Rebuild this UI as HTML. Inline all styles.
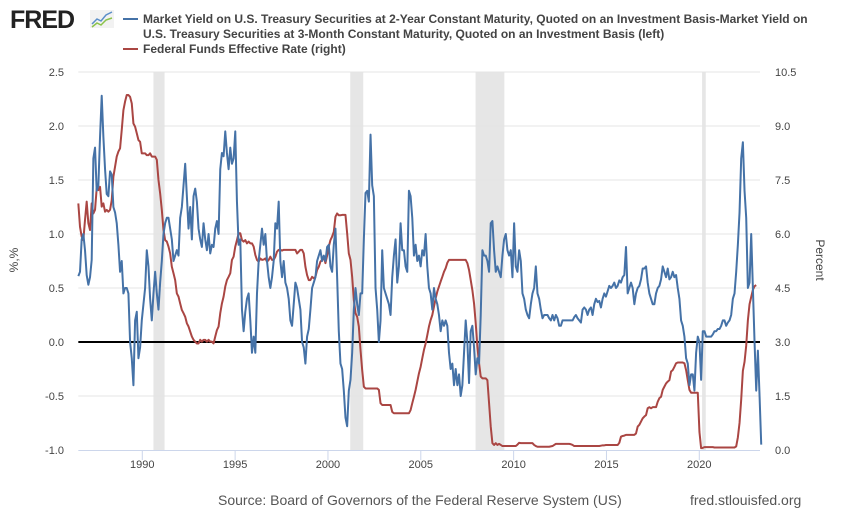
<!DOCTYPE html>
<html><head><meta charset="utf-8">
<style>
body{margin:0;background:#fff;font-family:"Liberation Sans",Arial,sans-serif;}
#wrap{position:relative;width:850px;height:525px;overflow:hidden;}
</style></head>
<body>
<div id="wrap">
<svg id="chart" width="850" height="525" xmlns="http://www.w3.org/2000/svg">
  <g>
    <text x="10" y="28" font-size="25" font-weight="bold" fill="#222" font-family="Liberation Sans, sans-serif" letter-spacing="-1">FRED</text>
    <rect x="90" y="10" width="24" height="18" fill="#f2f2f2"/>
    <polyline points="92,24 97,19 101,21 106,15 112,12" fill="none" stroke="#5b8fc9" stroke-width="1.5"/>
    <polyline points="92,27 97,23 101,25 106,20 112,18" fill="none" stroke="#8bc34a" stroke-width="1.5"/>
  </g>
  <g font-size="12" fill="#444" font-weight="bold">
    <line x1="123" y1="19" x2="138" y2="19" stroke="#4572a7" stroke-width="2"/>
    <text x="143" y="23">Market Yield on U.S. Treasury Securities at 2-Year Constant Maturity, Quoted on an Investment Basis-Market Yield on</text>
    <text x="143" y="38">U.S. Treasury Securities at 3-Month Constant Maturity, Quoted on an Investment Basis (left)</text>
    <line x1="123" y1="49" x2="138" y2="49" stroke="#aa4643" stroke-width="2"/>
    <text x="143" y="53">Federal Funds Effective Rate (right)</text>
  </g>
  <g id="recessions"></g>
  <g id="grid"></g>
  <g id="axes"></g>
  <g id="series"></g>
  <text x="18" y="260" font-size="12" fill="#444" transform="rotate(-90 18 260)" text-anchor="middle">%,%</text>
  <text x="816" y="260" font-size="12" fill="#444" transform="rotate(90 816 260)" text-anchor="middle">Percent</text>
  <text x="218" y="505" font-size="14" fill="#555">Source: Board of Governors of the Federal Reserve System (US)</text>
  <text x="690" y="505" font-size="14" fill="#555">fred.stlouisfed.org</text>
</svg>
</div>
<script>
const START_YEAR = 1986.555;
const STEP_YEARS = 0.08993;
const xTicks = [1990,1995,2000,2005,2010,2015,2020];
const leftTicks = [-1.0,-0.5,0.0,0.5,1.0,1.5,2.0,2.5];
const rightTicks = [0.0,1.5,3.0,4.5,6.0,7.5,9.0,10.5];
const recessionStarts = [1990.6,2001.2,2007.95,2020.15];
const recessionEnds = [1991.2,2001.9,2009.5,2020.35];
const spreadValues = [
0.61,0.65,0.95,1.0,0.85,0.62,0.53,0.6,0.76,1.7,1.8,1.4,1.45,1.9,2.28,1.9,1.6,1.37,1.35,1.58,1.55,1.25,1.2,1.1,0.9,0.65,0.75,0.45,0.5,0.5,0.45,0.0,-0.15,-0.4,0.2,0.28,-0.15,-0.05,0.2,0.35,0.5,0.85,0.7,0.4,0.2,0.45,0.65,0.45,0.3,0.55,0.75,1.0,1.1,1.15,1.15,1.05,0.95,0.75,0.8,0.85,0.8,1.15,1.25,1.45,1.65,1.35,1.05,1.25,0.95,1.35,1.42,1.3,1.05,0.95,0.88,1.1,0.95,0.85,1.0,0.82,0.9,0.88,1.05,1.12,1.0,1.6,1.75,1.72,1.95,1.75,1.6,1.8,1.65,1.7,1.95,1.3,0.9,0.95,0.3,0.1,0.28,0.4,0.45,0.2,-0.1,0.05,-0.1,0.45,0.75,0.9,1.05,0.9,1.0,0.75,0.6,0.5,0.6,0.75,1.1,1.05,1.3,0.75,0.6,0.75,0.55,0.5,0.4,0.2,0.15,0.35,0.55,0.5,0.4,0.3,0.0,-0.05,-0.2,0.05,0.12,0.3,0.5,0.55,0.6,0.75,0.8,0.85,0.75,0.8,0.75,0.88,0.9,0.7,0.65,0.9,1.05,0.6,0.1,-0.2,
-0.25,-0.45,-0.7,-0.78,-0.45,-0.35,-0.1,0.3,0.5,0.35,0.25,0.45,0.45,0.95,1.38,1.4,1.3,1.92,1.45,1.35,0.5,0.3,0.0,0.2,0.85,0.5,0.45,0.4,0.35,0.25,0.6,0.8,0.95,0.55,0.7,1.1,0.85,0.85,0.7,0.65,1.4,1.35,1.15,0.8,0.9,0.75,0.8,0.7,0.85,0.8,1.0,0.7,0.5,0.45,0.3,0.5,0.4,0.35,0.25,0.1,0.2,0.15,0.2,0.15,-0.1,-0.25,-0.2,-0.4,-0.25,-0.4,-0.3,-0.5,-0.4,-0.1,0.2,0.0,-0.38,0.1,0.15,-0.05,-0.3,-0.15,-0.2,0.25,0.85,0.8,0.8,0.75,0.65,1.1,1.12,0.85,0.65,0.7,0.65,0.6,0.8,0.95,1.0,0.85,0.8,0.85,0.6,1.1,0.7,0.65,0.85,0.75,0.45,0.4,0.3,0.25,0.22,0.35,0.45,0.5,0.7,0.45,0.4,0.3,0.22,0.25,0.25,0.25,0.22,0.2,0.25,0.2,0.25,0.22,0.15,0.15,0.2,0.2,0.2,0.2,0.2,0.2,
0.2,0.23,0.25,0.22,0.2,0.18,0.3,0.32,0.3,0.25,0.3,0.32,0.25,0.35,0.4,0.37,0.38,0.32,0.4,0.45,0.42,0.47,0.52,0.5,0.52,0.55,0.5,0.52,0.57,0.55,0.6,0.62,0.88,0.45,0.5,0.55,0.5,0.35,0.45,0.5,0.52,0.58,0.68,0.68,0.7,0.55,0.45,0.4,0.35,0.35,0.45,0.5,0.52,0.58,0.7,0.65,0.6,0.68,0.58,0.6,0.65,0.6,0.62,0.5,0.4,0.2,0.15,0.05,-0.15,-0.2,-0.4,-0.3,-0.3,-0.45,-0.1,0.05,0.0,-0.35,0.1,0.1,0.05,0.05,0.05,0.05,0.07,0.1,0.1,0.12,0.12,0.15,0.2,0.2,0.15,0.18,0.2,0.25,0.4,0.45,0.65,0.9,1.2,1.7,1.85,1.4,1.15,0.5,0.55,1.0,0.5,0.0,-0.45,-0.08,-0.5,-0.95
];
const fedFundsValues = [
6.85,6.2,5.93,5.83,6.39,6.9,6.3,6.11,6.85,6.57,6.67,7.27,7.22,7.31,6.76,6.85,6.62,6.67,6.62,6.67,6.94,7.59,7.87,8.15,8.29,8.38,8.89,9.44,9.68,9.86,9.86,9.81,9.63,9.07,8.98,8.8,8.61,8.56,8.24,8.24,8.24,8.19,8.19,8.24,8.15,8.15,8.15,8.06,7.5,7.13,6.67,6.11,5.83,5.79,5.65,5.46,5.09,4.91,4.72,4.35,4.26,4.07,3.89,3.8,3.7,3.52,3.43,3.29,3.15,3.06,3.01,2.96,2.96,3.06,3.01,3.06,3.06,3.01,3.06,3.01,3.01,2.96,3.15,3.33,3.43,3.8,4.07,4.26,4.54,4.72,4.81,4.91,5.28,5.37,5.65,5.83,6.02,6.02,5.83,5.79,5.83,5.74,5.79,5.74,5.74,5.65,5.42,5.28,5.23,5.32,5.28,5.29,5.32,5.23,5.28,5.37,5.28,5.28,5.37,5.51,5.56,5.56,5.54,5.56,5.56,5.56,5.56,5.56,5.56,5.56,5.56,5.46,5.51,5.56,5.56,5.46,5.09,4.86,4.72,4.72,4.81,4.77,4.81,5.0,5.09,5.23,5.28,5.37,5.19,5.4,5.65,5.83,5.93,6.06,6.48,6.57,6.52,6.52,
6.53,6.53,6.53,6.02,5.46,5.28,4.81,4.17,3.8,3.7,3.43,2.78,2.22,1.76,1.71,1.71,1.71,1.71,1.71,1.71,1.71,1.71,1.67,1.3,1.25,1.25,1.25,1.25,1.25,1.25,1.06,1.02,1.02,1.02,1.02,1.02,1.02,1.02,1.02,1.02,1.02,1.11,1.3,1.48,1.67,1.9,2.13,2.31,2.55,2.78,2.96,3.19,3.43,3.61,3.75,3.98,4.21,4.4,4.54,4.68,4.81,4.95,5.05,5.2,5.28,5.28,5.28,5.28,5.28,5.28,5.28,5.28,5.28,5.28,5.28,5.19,5.0,4.72,4.44,4.07,3.52,2.87,2.41,2.04,1.99,1.99,1.99,1.94,1.3,0.65,0.19,0.14,0.19,0.14,0.17,0.14,0.11,0.11,0.11,0.11,0.11,0.11,0.11,0.11,0.11,0.15,0.2,0.19,0.19,0.19,0.19,0.19,0.19,0.19,0.19,0.14,0.11,0.09,0.09,0.09,0.09,0.09,0.09,0.09,0.09,0.1,0.11,0.14,0.17,0.17,0.17,0.17,0.17,0.17,0.17,0.17,
0.17,0.16,0.14,0.11,0.11,0.11,0.11,0.11,0.11,0.11,0.11,0.11,0.11,0.11,0.11,0.11,0.11,0.11,0.11,0.12,0.13,0.13,0.14,0.14,0.14,0.14,0.14,0.14,0.14,0.14,0.2,0.37,0.39,0.4,0.42,0.42,0.42,0.42,0.42,0.42,0.46,0.65,0.7,0.79,0.88,0.93,0.97,1.16,1.19,1.16,1.19,1.19,1.19,1.34,1.44,1.48,1.67,1.76,1.85,1.9,1.94,2.18,2.22,2.31,2.41,2.43,2.43,2.43,2.43,2.41,2.22,1.94,1.67,1.59,1.59,1.59,1.59,1.59,0.5,0.05,0.06,0.08,0.08,0.08,0.08,0.08,0.08,0.07,0.07,0.07,0.07,0.07,0.07,0.07,0.07,0.07,0.07,0.07,0.07,0.07,0.1,0.35,0.75,1.4,2.2,2.45,2.9,3.6,4.05,4.25,4.45,4.55,4.58
];

const NS = "http://www.w3.org/2000/svg";
const PL = 78.33, PR = 760, PT = 72, PB = 450;
const X0 = 1986.555, X1 = 2023.27;
function xScale(yr){ return PL + (yr - X0) / (X1 - X0) * (PR - PL); }
function yLeft(v){ return PB - (v - (-1.0)) / (2.5 - (-1.0)) * (PB - PT); }
function yRight(v){ return PB - v / 10.5 * (PB - PT); }
function mk(tag, attrs, parent){
  const el = document.createElementNS(NS, tag);
  for (const k in attrs) el.setAttribute(k, attrs[k]);
  parent.appendChild(el);
  return el;
}
const gRec = document.getElementById('recessions');
const gGrid = document.getElementById('grid');
const gAxes = document.getElementById('axes');
const gSer = document.getElementById('series');

recessionStarts.forEach((s, i) => {
  const r = mk('rect', {x: xScale(s), y: PT, width: xScale(recessionEnds[i]) - xScale(s), height: PB - PT, fill: '#e6e6e6'}, gRec);
  
  
});

leftTicks.forEach((v, i) => {
  const y = yLeft(v);
  if (v !== -1.0 && v !== 0) {
    const l = mk('line', {x1: PL, x2: PR, y1: y, y2: y, stroke: '#e4e4e4', 'stroke-width': 1}, gGrid);
    
    
  }
  const t = mk('text', {x: 64, y: y + 4, 'text-anchor': 'end', 'font-size': 11, fill: '#444'}, gAxes);
  t.textContent = v.toFixed(1);
  
  
  const t2 = mk('text', {x: 775, y: yRight(rightTicks[i]) + 4, 'font-size': 11, fill: '#444'}, gAxes);
  t2.textContent = rightTicks[i].toFixed(1);
  
  
});

const xa = mk('line', {x1: PL, x2: PR, y1: PB + 0.5, y2: PB + 0.5, stroke: '#ccd6eb', 'stroke-width': 1}, gAxes);


xTicks.forEach(yr => {
  const x = xScale(yr);
  const tk = mk('line', {x1: x, x2: x, y1: PB, y2: PB + 10, stroke: '#ccd6eb'}, gAxes);
  
  
  const t = mk('text', {x: x, y: PB + 18, 'text-anchor': 'middle', 'font-size': 11, fill: '#444'}, gAxes);
  t.textContent = yr;
  
  
});

const zl = mk('line', {x1: PL, x2: PR, y1: yLeft(0), y2: yLeft(0), stroke: '#000', 'stroke-width': 2}, gSer);



function linePath(vals, yf){
  return vals.map((v, i) => (i ? 'L' : 'M') + xScale(START_YEAR + i * STEP_YEARS).toFixed(2) + ',' + yf(v).toFixed(2)).join(' ');
}
const ffPath = mk('path', {d: linePath(fedFundsValues, yRight), fill: 'none', stroke: '#aa4643', 'stroke-width': 2, 'stroke-linejoin': 'round'}, gSer);


const spPath = mk('path', {d: linePath(spreadValues, yLeft), fill: 'none', stroke: '#4572a7', 'stroke-width': 2, 'stroke-linejoin': 'round'}, gSer);


</script>
</body></html>
